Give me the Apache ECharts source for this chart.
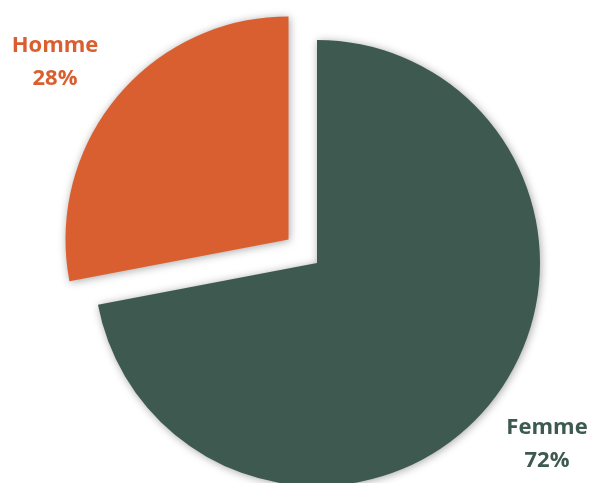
<!DOCTYPE html>
<html>
<head>
<meta charset="utf-8">
<script src="https://cdn.jsdelivr.net/npm/echarts@6/dist/echarts.min.js"></script>
<style>
  html, body { margin: 0; padding: 0; background: #ffffff; }
  #chart { width: 590px; height: 483px; }
</style>
</head>
<body>
<div id="chart"></div>
<script>
// Répartition par sexe
const categories = ['Femme', 'Homme'];
const values = [72, 28];
const colors = ['#3E5A50', '#D95F30'];
const explodedCategory = 'Homme';

const pieCenter = [317, 263];
const explodeDistance = 37;
// Where each label block sits (center of the two-line text)
const labelSpots = { Femme: [547, 444], Homme: [55, 62] };

// The exploded slice carries its label along, so take that shift back out
const total = values.reduce((a, b) => a + b, 0);
let acc = 0;
const sliceShift = values.map(v => {
  const mid = (acc + v / 2) / total * Math.PI * 2; // clockwise from 12 o'clock
  acc += v;
  return [Math.sin(mid) * explodeDistance, -Math.cos(mid) * explodeDistance];
});

const chart = echarts.init(document.getElementById('chart'), null, { renderer: 'canvas' });

chart.setOption({
  animation: false,
  backgroundColor: '#ffffff',
  series: [{
    type: 'pie',
    center: pieCenter,
    radius: 223,
    startAngle: 90,
    clockwise: true,
    selectedMode: 'single',
    selectedOffset: explodeDistance,
    emphasis: { disabled: true },
    itemStyle: {
      shadowBlur: 9,
      shadowColor: 'rgba(0,0,0,0.35)',
      shadowOffsetX: 1,
      shadowOffsetY: 1
    },
    label: {
      show: true,
      position: 'center',
      formatter: p => p.name + '\n' + p.value + '%',
      fontFamily: 'Open Sans',
      fontWeight: 'bold',
      fontSize: 22,
      lineHeight: 33,
      align: 'center',
      verticalAlign: 'middle',
      overflow: 'none'
    },
    labelLine: { show: false },
    data: categories.map((name, i) => {
      const spot = labelSpots[name];
      const selected = name === explodedCategory;
      const shift = selected ? sliceShift[i] : [0, 0];
      const off = [spot[0] - pieCenter[0] - shift[0], spot[1] - pieCenter[1] - shift[1]];
      return {
        name: name,
        value: values[i],
        selected: selected,
        itemStyle: { color: colors[i] },
        label: { color: colors[i], offset: off },
        select: { label: { color: colors[i], offset: off } }
      };
    })
  }]
});
</script>
</body>
</html>
